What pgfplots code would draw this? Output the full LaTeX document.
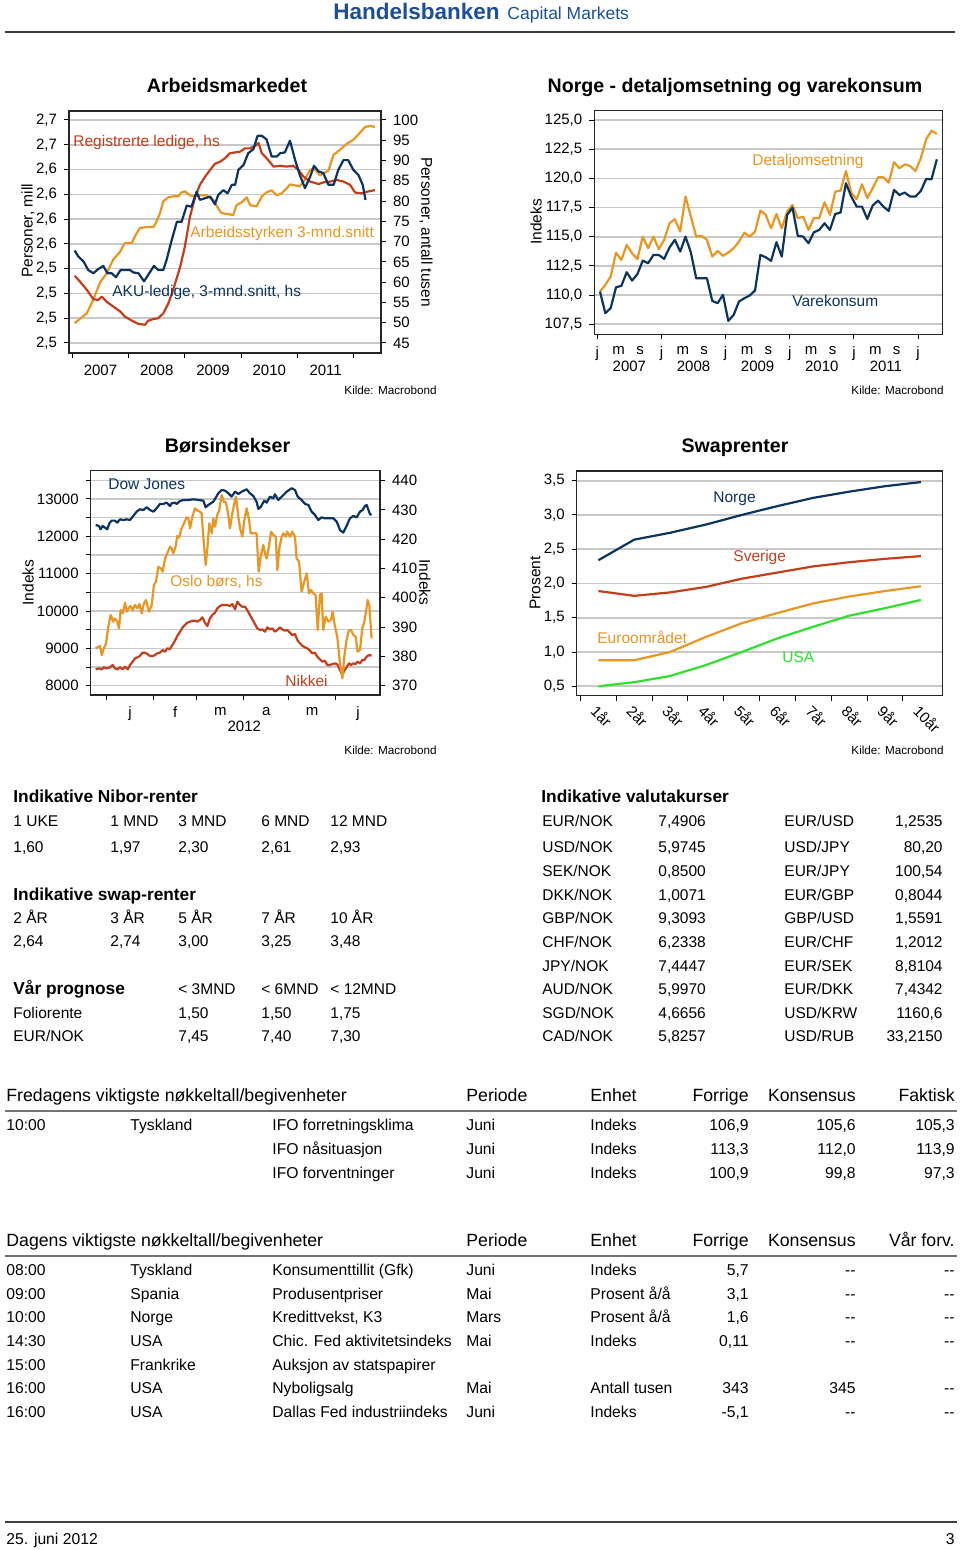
\documentclass[border=0pt]{standalone}
\usepackage{fontspec}
\setmainfont{Liberation Sans}
\usepackage{pgfplots}
\pgfplotsset{compat=1.18}
\definecolor{hbnavy}{RGB}{12,52,97}
\definecolor{hborange}{RGB}{233,150,35}
\definecolor{hbred}{RGB}{196,62,28}
\definecolor{hbgreen}{RGB}{45,225,45}
\definecolor{hbgrid}{RGB}{200,200,200}
\definecolor{hbblue}{RGB}{28,78,155}
\newcommand\fa{\fontsize{7.75}{9}\selectfont}
\newcommand\fk{\fontsize{5.85}{7}\selectfont}
\newcommand\ft{\fontsize{9.8}{12}\selectfont\bfseries}
\newcommand\fb{\fontsize{8.65}{10}\selectfont\bfseries}
\newcommand\fr{\fontsize{7.85}{9}\selectfont}
\newcommand\fh{\fontsize{8.85}{10}\selectfont}
\newcommand\TL[3]{\node[anchor=base west,inner sep=0pt] at (#1,#2) {#3};}
\newcommand\TR[3]{\node[anchor=base east,inner sep=0pt] at (#1,#2) {#3};}
\newcommand\TC[3]{\node[anchor=base,inner sep=0pt] at (#1,#2) {#3};}
\pgfplotsset{
  hb/.style={
    scale only axis, anchor=south west,
    axis line style={draw=black!85, line width=0.6pt},
    tick align=outside,
    major tick length=2.5pt, minor tick length=2.5pt,
    tick style={black, line width=0.5pt},
    major x tick style={draw=none},
    minor x tick style={black, line width=0.5pt},
    tick label style={font=\fontsize{7.5}{9}\selectfont},
    /pgf/number format/assume math mode=true,
    scaled ticks=false,
    major grid style={draw=hbgrid, line width=0.8pt},
    every axis plot/.append style={line width=1.1pt, line join=round},
  },
  hbr/.style={
    axis x line=none, axis y line*=right, tick align=outside,
    ymajorgrids=false,
  },
}
\begin{document}
\begin{tikzpicture}
\useasboundingbox (0,0) rectangle (480pt,775pt);
\fill[white] (0,0) rectangle (480pt,775pt);

%================ Chart 1: Arbeidsmarkedet
\begin{axis}[hb, at={(34.5pt,598.5pt)}, width=156pt, height=121pt,
  xmin=-0.7, xmax=65.8, ymin=2.4649, ymax=2.7091,
  xtick={6,18,30,42,54}, xticklabels={2007,2008,2009,2010,2011},
  minor xtick={0,12,24,36,48,60},
  ytick={2.475,2.5,2.525,2.55,2.575,2.6,2.625,2.65,2.675,2.7},
  yticklabels={{2,5},{2,5},{2,5},{2,5},{2,6},{2,6},{2,6},{2,6},{2,7},{2,7}},
  xtick pos=bottom, ytick pos=left, ymajorgrids]
\addplot[hborange] coordinates {(0.5,2.495) (3.1,2.505) (4.5,2.519) (5.9,2.536) (7.3,2.545) (8.7,2.559) (10.2,2.567) (11.2,2.576) (12.7,2.576) (13.4,2.583) (14.4,2.591) (15.9,2.592) (17.3,2.592) (17.8,2.596) (18.7,2.606) (19.4,2.618) (20.5,2.622) (21.5,2.623) (22.6,2.623) (23.3,2.627) (24.0,2.628) (25.1,2.624) (26.2,2.623) (27.2,2.624) (28.6,2.624) (30.1,2.619) (31.1,2.611) (31.8,2.606) (33.3,2.605) (34.3,2.604) (35.0,2.614) (36.1,2.617) (37.2,2.622) (37.9,2.614) (39.3,2.613) (40.4,2.623) (41.4,2.627) (42.5,2.629) (43.6,2.624) (44.6,2.626) (45.7,2.631) (46.4,2.635) (47.5,2.634) (48.5,2.633) (49.6,2.640) (50.7,2.650) (51.7,2.650) (52.8,2.644) (54.6,2.649) (55.7,2.665) (57.1,2.670) (58.5,2.676) (59.9,2.680) (61.3,2.687) (62.4,2.693) (63.5,2.694) (64.5,2.693)};
\end{axis}
\begin{axis}[hb, hbr, at={(34.5pt,598.5pt)}, width=156pt, height=121pt,
  xmin=-0.7, xmax=65.8, ymin=42.53, ymax=102.22, ytick={45,50,...,100}]
\addplot[hbred] coordinates {(0.5,61.6) (1.6,60.2) (3.1,58.1) (4.5,55.8) (5.5,55.6) (6.3,56.4) (7.3,55.2) (8.7,54.0) (10.2,52.8) (11.2,51.5) (12.7,50.5) (14.1,49.7) (15.5,49.5) (16.2,50.5) (17.3,50.9) (18.3,51.1) (19.4,52.3) (20.5,54.8) (21.5,58.1) (23.0,63.8) (24.0,68.8) (25.1,76.2) (26.2,81.1) (27.2,84.0) (28.3,86.0) (29.4,87.7) (30.4,89.2) (31.5,89.7) (32.6,90.6) (33.6,91.8) (34.7,92.0) (35.8,92.2) (36.8,93.0) (37.9,93.0) (39.0,93.6) (39.7,94.3) (40.4,91.8) (41.4,90.6) (42.9,88.5) (44.3,88.7) (45.7,88.5) (47.1,88.7) (48.2,87.7) (49.3,86.0) (50.7,84.8) (52.5,84.2) (53.5,84.6) (54.9,84.8) (56.4,85.2) (57.8,84.8) (59.2,84.0) (60.3,82.1) (61.7,81.9) (62.8,82.3) (64.5,82.7)};
\addplot[hbnavy] coordinates {(0.5,67.8) (1.3,66.3) (2.4,65.1) (3.4,63.0) (4.5,62.2) (5.5,63.2) (6.6,64.0) (7.5,62.2) (8.4,62.2) (9.3,61.2) (10.3,63.0) (11.2,63.0) (12.3,63.0) (13.0,62.4) (14.1,62.2) (15.3,60.2) (16.4,62.2) (17.4,64.0) (18.3,63.0) (19.4,63.0) (20.1,65.5) (21.2,70.4) (22.3,74.9) (23.3,74.9) (24.4,78.9) (25.4,78.6) (26.5,82.3) (27.2,80.3) (28.3,80.7) (29.4,81.1) (30.4,79.2) (31.1,81.5) (32.2,82.7) (33.1,81.9) (34.0,84.0) (34.7,84.0) (35.4,87.7) (36.5,88.9) (37.5,91.8) (38.6,92.8) (39.5,96.1) (40.4,96.1) (41.4,95.2) (42.5,91.0) (43.6,91.0) (44.3,91.8) (45.3,92.0) (46.4,94.9) (47.5,90.1) (48.5,86.4) (49.6,83.2) (50.7,86.0) (51.5,88.7) (52.5,87.3) (53.5,86.9) (54.6,84.0) (55.7,84.0) (56.7,87.7) (57.8,90.1) (58.8,90.1) (59.9,87.7) (61.0,86.4) (61.9,84.0) (62.5,80.3)};
\end{axis}

%================ Chart 2: Norge
\begin{axis}[hb, at={(297.15pt,607.85pt)}, width=174.2pt, height=111.8pt,
  xmin=-0.56, xmax=64.6, ymin=106.64, ymax=125.8,
  xtick={0,4,...,60}, xticklabels={j,m,s,j,m,s,j,m,s,j,m,s,j,m,s,j},
  minor xtick={0,12,...,60},
  ytick={107.5,110,112.5,115,117.5,120,122.5,125},
  yticklabel style={/pgf/number format/.cd,fixed,fixed zerofill,precision=1,use comma},
  xtick pos=bottom, ytick pos=left, ymajorgrids]
\addplot[hborange] coordinates {(0.5,110.30) (1.5,110.87) (2.5,111.59) (3.5,113.64) (4.5,113.01) (5.5,114.30) (6.5,113.58) (7.5,113.07) (8.5,115.01) (9.5,114.01) (10.5,115.01) (11.5,113.93) (12.5,114.73) (13.5,116.15) (14.5,116.50) (15.5,115.44) (16.5,118.44) (17.5,116.72) (18.5,115.01) (19.5,115.07) (20.5,114.73) (21.5,113.30) (22.5,113.78) (23.5,113.36) (24.5,113.64) (25.5,114.01) (26.5,114.58) (27.5,115.35) (28.5,115.01) (29.5,115.44) (30.5,117.24) (31.5,116.87) (32.5,115.72) (33.5,116.95) (34.5,115.72) (35.5,117.15) (36.5,117.72) (37.5,116.58) (38.5,116.72) (39.5,115.58) (40.5,116.58) (41.5,116.58) (42.5,117.95) (43.5,116.87) (44.5,118.86) (45.5,118.95) (46.5,120.63) (47.5,118.78) (48.5,118.21) (49.5,119.49) (50.5,118.32) (51.5,119.15) (52.5,120.09) (53.5,120.09) (54.5,119.63) (55.5,121.38) (56.5,120.86) (57.5,121.20) (58.5,121.06) (59.5,120.63) (60.5,121.72) (61.5,123.34) (62.5,124.09) (63.5,123.80)};
\addplot[hbnavy] coordinates {(0.5,110.30) (1.5,108.45) (2.5,108.88) (3.5,110.67) (4.5,110.79) (5.5,111.96) (6.5,111.24) (7.5,111.79) (8.5,112.96) (9.5,112.73) (10.5,113.44) (11.5,113.44) (12.5,113.10) (13.5,114.07) (14.5,114.73) (15.5,113.73) (16.5,115.01) (17.5,113.64) (18.5,111.44) (19.5,111.44) (20.5,111.44) (21.5,109.50) (22.5,109.30) (23.5,110.02) (24.5,107.79) (25.5,108.30) (26.5,109.45) (27.5,109.73) (28.5,109.96) (29.5,110.39) (30.5,113.44) (31.5,113.24) (32.5,112.93) (33.5,114.53) (34.5,113.30) (35.5,116.87) (36.5,117.49) (37.5,115.07) (38.5,115.01) (39.5,114.44) (40.5,115.38) (41.5,115.58) (42.5,116.15) (43.5,115.58) (44.5,116.95) (45.5,117.07) (46.5,119.58) (47.5,118.44) (48.5,117.58) (49.5,117.58) (50.5,116.52) (51.5,117.67) (52.5,118.09) (53.5,117.58) (54.5,117.21) (55.5,119.01) (56.5,118.58) (57.5,118.78) (58.5,118.44) (59.5,118.44) (60.5,118.92) (61.5,119.95) (62.5,119.92) (63.5,121.63)};
\end{axis}

%================ Chart 3: Borsindekser
\begin{axis}[hb, at={(45.35pt,427.5pt)}, width=144.65pt, height=112.15pt,
  xmin=-10.6, xmax=181.6, ymin=7751, ymax=13758,
  xtick={15.5,45.5,75.5,106,136.5,167}, xticklabels={j,f,m,a,m,j},
  minor xtick={0,31,60,91,121,152},
  ytick={8000,8500,...,13500}, yticklabels={8000,,9000,,10000,,11000,,12000,,13000,},
  xtick pos=bottom, ytick pos=left, ymajorgrids]
\addplot[hbnavy] coordinates {(-7.3,12304) (-5.1,12277) (-4.0,12187) (-2.7,12277) (-1.1,12232) (0.4,12187) (1.8,12348) (3.3,12420) (5.5,12420) (7.1,12366) (8.9,12455) (11.1,12437) (13.3,12455) (15.5,12437) (17.7,12545) (19.9,12661) (22.1,12723) (24.4,12705) (26.6,12777) (28.8,12705) (31.0,12661) (33.2,12750) (35.4,12866) (37.6,12866) (39.9,12902) (42.1,12812) (43.2,12884) (45.4,12902) (46.5,12866) (48.7,12946) (51.4,12973) (54.3,12973) (57.6,12991) (60.9,12973) (64.2,12955) (65.8,12777) (67.5,12839) (70.9,12929) (74.2,13152) (76.4,13241) (78.6,13223) (80.4,13170) (83.0,13063) (85.3,13196) (87.5,13134) (89.7,13196) (93.0,13259) (95.2,13152) (97.4,13080) (99.6,12929) (100.8,12732) (102.5,12795) (104.7,12955) (106.3,12902) (108.5,13063) (110.7,13018) (111.8,13125) (114.0,12973) (116.3,13063) (119.6,13196) (122.9,13286) (125.1,13241) (126.9,13063) (129.5,12973) (131.8,12866) (134.0,12839) (136.2,12661) (138.4,12571) (140.6,12437) (142.8,12509) (145.0,12482) (147.3,12482) (149.5,12482) (150.6,12482) (152.8,12393) (155.0,12170) (157.2,12098) (159.4,12277) (161.6,12482) (163.9,12545) (166.1,12509) (168.3,12661) (170.1,12705) (171.6,12812) (172.7,12839) (173.8,12723) (174.9,12598) (176.0,12571)};
\addplot[hbred] coordinates {(-7.3,8437) (-5.1,8464) (-3.3,8437) (-1.8,8491) (0.4,8464) (2.2,8491) (4.0,8553) (5.5,8464) (7.1,8437) (8.9,8491) (10.6,8437) (12.2,8509) (14.0,8437) (15.5,8553) (17.3,8643) (18.8,8732) (20.4,8759) (22.1,8794) (23.7,8884) (25.5,8884) (27.0,8848) (28.8,8794) (30.6,8794) (32.1,8821) (33.7,8866) (35.4,8884) (37.2,8955) (38.8,8911) (40.3,9000) (42.1,8982) (43.6,9089) (45.4,9205) (46.9,9330) (48.7,9446) (50.5,9562) (52.0,9625) (53.6,9687) (55.4,9714) (57.1,9741) (58.7,9741) (60.2,9714) (62.0,9759) (63.6,9830) (65.3,9687) (66.9,9598) (68.6,9803) (70.2,9893) (72.0,9955) (73.5,10071) (75.3,10134) (76.8,10161) (78.6,10161) (80.2,10161) (81.9,10134) (83.5,10187) (85.3,10045) (86.8,10250) (88.6,10161) (90.1,10116) (91.9,10116) (93.4,10027) (95.2,9893) (96.8,9777) (98.5,9652) (100.1,9536) (101.9,9491) (103.4,9509) (105.2,9446) (106.7,9562) (108.5,9509) (110.1,9536) (111.8,9446) (113.4,9491) (115.1,9562) (116.7,9509) (118.5,9473) (120.0,9491) (121.8,9419) (123.3,9357) (125.1,9384) (126.7,9223) (128.4,9134) (130.0,9071) (131.8,9027) (133.3,9000) (135.1,8937) (136.6,8866) (138.4,8884) (139.9,8777) (141.7,8705) (143.3,8643) (145.0,8669) (146.6,8553) (148.4,8553) (149.9,8580) (151.7,8598) (153.2,8571) (155.0,8420) (156.6,8286) (157.9,8402) (159.4,8491) (161.0,8598) (162.3,8553) (163.9,8598) (165.4,8580) (166.7,8643) (168.3,8598) (169.8,8687) (171.2,8687) (172.7,8777) (174.3,8821) (176.0,8803)};
\end{axis}
\begin{axis}[hb, hbr, at={(45.35pt,427.5pt)}, width=144.65pt, height=112.15pt,
  xmin=-10.6, xmax=181.6, ymin=366.82, ymax=443.41, ytick={370,380,...,440}]
\addplot[hborange] coordinates {(-7.3,382.75) (-5.5,383.32) (-4.4,383.55) (-3.3,380.47) (-1.8,382.75) (-0.4,384.46) (1.1,390.15) (2.7,394.13) (4.4,391.85) (5.5,392.99) (7.1,391.85) (8.2,389.58) (9.3,395.84) (10.6,394.70) (12.2,398.34) (13.3,395.27) (14.6,396.41) (15.9,397.20) (17.3,395.84) (18.8,397.55) (20.4,396.41) (21.7,397.89) (23.3,394.70) (24.8,398.11) (26.1,399.25) (27.2,396.98) (28.3,395.27) (29.9,397.55) (31.4,404.38) (32.8,405.51) (34.3,410.63) (35.9,410.07) (37.2,408.93) (38.8,413.48) (40.3,415.19) (42.1,417.46) (43.2,416.89) (44.3,415.19) (45.8,417.46) (46.9,421.11) (48.1,420.54) (49.8,423.72) (51.4,425.43) (53.1,427.48) (54.3,427.14) (55.4,423.72) (56.9,427.71) (58.7,430.55) (60.5,429.76) (62.0,429.41) (63.1,428.85) (64.2,420.88) (65.8,411.20) (67.1,418.03) (68.2,425.43) (69.8,422.02) (70.9,427.14) (72.0,424.29) (73.5,428.28) (74.8,429.98) (76.4,435.11) (77.9,432.83) (79.3,432.49) (80.8,428.28) (81.9,423.72) (83.5,428.85) (84.6,431.69) (85.9,434.54) (87.5,427.71) (88.6,423.72) (90.1,420.88) (91.5,426.57) (93.0,430.55) (94.6,426.57) (95.7,422.02) (97.4,422.02) (99.6,422.02) (101.0,408.93) (102.3,414.05) (104.1,418.03) (105.2,415.19) (106.3,413.48) (107.8,417.46) (109.2,422.59) (110.7,421.45) (112.3,420.88) (113.4,409.50) (114.7,416.89) (116.3,420.88) (117.4,422.02) (118.9,420.88) (120.0,422.59) (121.8,420.88) (123.3,422.59) (125.1,420.88) (126.2,413.48) (127.8,412.34) (129.5,402.10) (131.3,405.51) (132.9,408.36) (134.4,401.53) (135.7,402.67) (137.3,401.53) (138.8,400.96) (140.2,389.01) (141.7,400.96) (142.8,401.53) (143.9,389.01) (145.5,393.56) (147.3,391.85) (149.0,392.42) (150.1,395.27) (151.7,390.15) (153.2,386.73) (155.0,377.63) (156.6,372.51) (157.9,379.90) (159.4,385.60) (161.0,389.01) (162.3,389.01) (163.9,387.30) (165.4,386.73) (166.7,381.61) (168.3,382.18) (169.8,389.58) (171.2,391.85) (172.3,395.27) (173.4,399.25) (174.5,397.55) (176.0,386.16)};
\end{axis}

%================ Chart 4: Swaprenter
\begin{axis}[hb, at={(288.35pt,427.15pt)}, width=183pt, height=112.35pt,
  xmin=0.395, xmax=10.61, ymin=0.363, ymax=3.642,
  xtick={1,...,10}, xticklabels={1år,2år,3år,4år,5år,6år,7år,8år,9år,10år},
  xticklabel style={rotate=-45, anchor=north west, inner sep=1pt, font=\fontsize{7.5}{8}\selectfont},
  minor xtick={0.5,1.5,...,9.5},
  ytick={0.5,1,1.5,2,2.5,3,3.5},
  yticklabel style={/pgf/number format/.cd,fixed,fixed zerofill,precision=1,use comma},
  xtick pos=bottom, ytick pos=left, ymajorgrids]
\addplot[hbnavy] coordinates {(1,2.34) (2,2.64) (3,2.74) (4,2.86) (5,3.00) (6,3.13) (7,3.25) (8,3.34) (9,3.42) (10,3.48)};
\addplot[hbred] coordinates {(1,1.89) (2,1.82) (3,1.87) (4,1.95) (5,2.07) (6,2.16) (7,2.25) (8,2.31) (9,2.36) (10,2.40)};
\addplot[hborange] coordinates {(1,0.88) (2,0.88) (3,1.00) (4,1.22) (5,1.42) (6,1.57) (7,1.71) (8,1.81) (9,1.89) (10,1.96)};
\addplot[hbgreen] coordinates {(1,0.50) (2,0.56) (3,0.65) (4,0.81) (5,1.00) (6,1.20) (7,1.37) (8,1.53) (9,1.64) (10,1.76)};
\end{axis}

%================ Text (image pixel coordinates)
\begin{scope}[shift={(0pt,775pt)},x=0.5pt,y=-0.5pt]
% header
\node[anchor=base west,inner sep=0pt,text=hbblue,font=\fontsize{11.25}{13}\selectfont\bfseries] at (333,19.5) {Handelsbanken};
\node[anchor=base west,inner sep=0pt,text=hbblue,font=\fontsize{8.75}{10}\selectfont] at (507,19.5) {Capital Markets};
\draw[black!75,line width=0.75pt] (5,32) -- (955,32);
% titles
\begin{scope}[font=\ft]
\TC{227}{93}{Arbeidsmarkedet}
\TC{735}{92.5}{Norge - detaljomsetning og varekonsum}
\TC{227.5}{452.5}{Børsindekser}
\TC{735}{452.5}{Swaprenter}
\end{scope}
\begin{scope}[font=\fk]
\TR{437}{395}{Kilde: Macrobond}
\TR{944}{395}{Kilde: Macrobond}
\TR{437}{755}{Kilde: Macrobond}
\TR{944}{755}{Kilde: Macrobond}
\end{scope}
\begin{scope}[font=\fa]
% axis labels
\node[rotate=90] at (28,231) {Personer, mill};
\node[rotate=-90] at (426,232) {Personer, antall tusen};
\node[rotate=90] at (536,222) {Indeks};
\node[rotate=90] at (28,582.5) {Indeks};
\node[rotate=-90] at (425,582.5) {Indeks};
\node[rotate=90] at (535,583) {Prosent};
% year labels
\node[anchor=base,inner sep=0pt,font=\fontsize{7.5}{9}\selectfont] at (629.4,371.5) {2007};
\node[anchor=base,inner sep=0pt,font=\fontsize{7.5}{9}\selectfont] at (693.5,371.5) {2008};
\node[anchor=base,inner sep=0pt,font=\fontsize{7.5}{9}\selectfont] at (757.6,371.5) {2009};
\node[anchor=base,inner sep=0pt,font=\fontsize{7.5}{9}\selectfont] at (821.8,371.5) {2010};
\node[anchor=base,inner sep=0pt,font=\fontsize{7.5}{9}\selectfont] at (885.9,371.5) {2011};
\node[anchor=base,inner sep=0pt,font=\fontsize{7.5}{9}\selectfont] at (244.3,731.5) {2012};
% series labels
\node[anchor=base west,inner sep=0pt,text=hbred] at (73,146.5) {Registrerte ledige, hs};
\node[anchor=base west,inner sep=0pt,text=hborange] at (190,237.5) {Arbeidsstyrken 3-mnd.snitt};
\node[anchor=base west,inner sep=0pt,text=hbnavy] at (112,296.5) {AKU-ledige, 3-mnd.snitt, hs};
\node[anchor=base west,inner sep=0pt,text=hborange] at (752,166) {Detaljomsetning};
\node[anchor=base west,inner sep=0pt,text=hbnavy] at (792,306.5) {Varekonsum};
\node[anchor=base west,inner sep=0pt,text=hbnavy] at (108,490) {Dow Jones};
\node[anchor=base west,inner sep=0pt,text=hborange] at (170,586.5) {Oslo børs, hs};
\node[anchor=base west,inner sep=0pt,text=hbred] at (285,686.5) {Nikkei};
\node[anchor=base west,inner sep=0pt,text=hbnavy] at (713,502.5) {Norge};
\node[anchor=base west,inner sep=0pt,text=hbred] at (733,562) {Sverige};
\node[anchor=base west,inner sep=0pt,text=hborange] at (597,644) {Euroområdet};
\node[anchor=base west,inner sep=0pt,text=hbgreen] at (782,663) {USA};
\end{scope}
% Nibor block
\begin{scope}[font=\fb]
\TL{13}{803}{Indikative Nibor-renter}
\TL{13}{900.5}{Indikative swap-renter}
\TL{13}{995}{Vår prognose}
\TL{541}{803}{Indikative valutakurser}
\end{scope}
\begin{scope}[font=\fa]
\TL{13}{827}{1 UKE}\TL{110}{827}{1 MND}\TL{178}{827}{3 MND}\TL{261}{827}{6 MND}\TL{330}{827}{12 MND}
\TL{13}{853}{1,60}\TL{110}{853}{1,97}\TL{178}{853}{2,30}\TL{261}{853}{2,61}\TL{330}{853}{2,93}
\TL{13}{924}{2 ÅR}\TL{110}{924}{3 ÅR}\TL{178}{924}{5 ÅR}\TL{261}{924}{7 ÅR}\TL{330}{924}{10 ÅR}
\TL{13}{947}{2,64}\TL{110}{947}{2,74}\TL{178}{947}{3,00}\TL{261}{947}{3,25}\TL{330}{947}{3,48}
\TL{178}{995}{< 3MND}\TL{261}{995}{< 6MND}\TL{330}{995}{< 12MND}
\TL{13}{1018.5}{Foliorente}\TL{178}{1018.5}{1,50}\TL{261}{1018.5}{1,50}\TL{330}{1018.5}{1,75}
\TL{13}{1042}{EUR/NOK}\TL{178}{1042}{7,45}\TL{261}{1042}{7,40}\TL{330}{1042}{7,30}
% valuta
\TL{542}{827}{EUR/NOK}\TL{658}{827}{7,4906}\TL{784}{827}{EUR/USD}\TR{943}{827}{1,2535}
\TL{542}{853}{USD/NOK}\TL{658}{853}{5,9745}\TL{784}{853}{USD/JPY}\TR{943}{853}{80,20}
\TL{542}{877}{SEK/NOK}\TL{658}{877}{0,8500}\TL{784}{877}{EUR/JPY}\TR{943}{877}{100,54}
\TL{542}{901}{DKK/NOK}\TL{658}{901}{1,0071}\TL{784}{901}{EUR/GBP}\TR{943}{901}{0,8044}
\TL{542}{924}{GBP/NOK}\TL{658}{924}{9,3093}\TL{784}{924}{GBP/USD}\TR{943}{924}{1,5591}
\TL{542}{948}{CHF/NOK}\TL{658}{948}{6,2338}\TL{784}{948}{EUR/CHF}\TR{943}{948}{1,2012}
\TL{542}{971.5}{JPY/NOK}\TL{658}{971.5}{7,4447}\TL{784}{971.5}{EUR/SEK}\TR{943}{971.5}{8,8104}
\TL{542}{995}{AUD/NOK}\TL{658}{995}{5,9970}\TL{784}{995}{EUR/DKK}\TR{943}{995}{7,4342}
\TL{542}{1018.5}{SGD/NOK}\TL{658}{1018.5}{4,6656}\TL{784}{1018.5}{USD/KRW}\TR{943}{1018.5}{1160,6}
\TL{542}{1042}{CAD/NOK}\TL{658}{1042}{5,8257}\TL{784}{1042}{USD/RUB}\TR{943}{1042}{33,2150}
\end{scope}
% bottom tables
\begin{scope}[font=\fh]
\TL{6}{1102}{Fredagens viktigste nøkkeltall/begivenheter}\TL{466}{1102}{Periode}\TL{590}{1102}{Enhet}\TR{749}{1102}{Forrige}\TR{856}{1102}{Konsensus}\TR{955}{1102}{Faktisk}
\TL{6}{1247}{Dagens viktigste nøkkeltall/begivenheter}\TL{466}{1247}{Periode}\TL{590}{1247}{Enhet}\TR{749}{1247}{Forrige}\TR{856}{1247}{Konsensus}\TR{955}{1247}{Vår forv.}
\end{scope}
\draw[black!55,line width=1pt] (5,1111) -- (957,1111);
\draw[black!55,line width=1pt] (5,1256) -- (957,1256);
\begin{scope}[font=\fr]
\TL{6}{1131}{10:00}\TL{130}{1131}{Tyskland}\TL{272}{1131}{IFO forretningsklima}\TL{466}{1131}{Juni}\TL{590}{1131}{Indeks}\TR{749}{1131}{106,9}\TR{856}{1131}{105,6}\TR{955}{1131}{105,3}
\TL{272}{1155}{IFO nåsituasjon}\TL{466}{1155}{Juni}\TL{590}{1155}{Indeks}\TR{749}{1155}{113,3}\TR{856}{1155}{112,0}\TR{955}{1155}{113,9}
\TL{272}{1179}{IFO forventninger}\TL{466}{1179}{Juni}\TL{590}{1179}{Indeks}\TR{749}{1179}{100,9}\TR{856}{1179}{99,8}\TR{955}{1179}{97,3}
%
\TL{6}{1276}{08:00}\TL{130}{1276}{Tyskland}\TL{272}{1276}{Konsumenttillit (Gfk)}\TL{466}{1276}{Juni}\TL{590}{1276}{Indeks}\TR{749}{1276}{5,7}\TR{856}{1276}{-{}-}\TR{955}{1276}{-{}-}
\TL{6}{1300}{09:00}\TL{130}{1300}{Spania}\TL{272}{1300}{Produsentpriser}\TL{466}{1300}{Mai}\TL{590}{1300}{Prosent å/å}\TR{749}{1300}{3,1}\TR{856}{1300}{-{}-}\TR{955}{1300}{-{}-}
\TL{6}{1323}{10:00}\TL{130}{1323}{Norge}\TL{272}{1323}{Kredittvekst, K3}\TL{466}{1323}{Mars}\TL{590}{1323}{Prosent å/å}\TR{749}{1323}{1,6}\TR{856}{1323}{-{}-}\TR{955}{1323}{-{}-}
\TL{6}{1347}{14:30}\TL{130}{1347}{USA}\TL{272}{1347}{Chic. Fed aktivitetsindeks}\TL{466}{1347}{Mai}\TL{590}{1347}{Indeks}\TR{749}{1347}{0,11}\TR{856}{1347}{-{}-}\TR{955}{1347}{-{}-}
\TL{6}{1371}{15:00}\TL{130}{1371}{Frankrike}\TL{272}{1371}{Auksjon av statspapirer}
\TL{6}{1394}{16:00}\TL{130}{1394}{USA}\TL{272}{1394}{Nyboligsalg}\TL{466}{1394}{Mai}\TL{590}{1394}{Antall tusen}\TR{749}{1394}{343}\TR{856}{1394}{345}\TR{955}{1394}{-{}-}
\TL{6}{1418}{16:00}\TL{130}{1418}{USA}\TL{272}{1418}{Dallas Fed industriindeks}\TL{466}{1418}{Juni}\TL{590}{1418}{Indeks}\TR{749}{1418}{-5,1}\TR{856}{1418}{-{}-}\TR{955}{1418}{-{}-}
\end{scope}
\draw[black!75,line width=0.75pt] (5,1522) -- (957,1522);
\begin{scope}[font=\fr]
\TL{6}{1545}{25. juni 2012}\TR{955}{1545}{3}
\end{scope}
\end{scope}
\end{tikzpicture}
\end{document}
